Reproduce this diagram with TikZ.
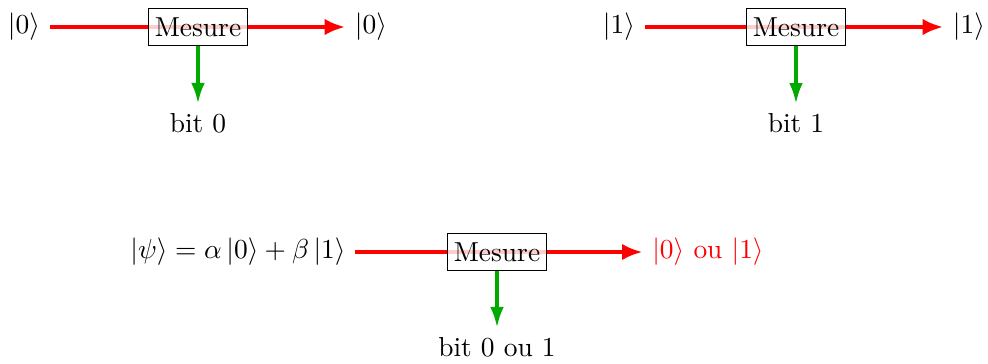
\documentclass[tikz,border=0pt]{standalone}
\usepackage{xcolor}
\usepackage{tikz}
\usetikzlibrary{arrows.meta, backgrounds}

\definecolor{vertmes}{RGB}{0,170,0}

\begin{document}
\begin{tikzpicture}[x=0.012804cm, y=-0.012804cm]
\tikzstyle{boite} = [rectangle, draw=black, fill=white, fill opacity=0.8, text opacity=1, inner xsep=2.2pt, minimum height=12.8pt]
\tikzstyle{rouge} = [draw=red, line width=1.5pt, -{Latex[length=7.5pt,width=6pt]}]
\tikzstyle{vert} = [draw=vertmes, line width=1.2pt, -{Latex[length=7.5pt,width=5pt]}]
\useasboundingbox (0,0) rectangle (988,363);

% mesure de |0>
\node (m0) [boite] at (198,27) {Mesure};
\node (in0) at (24,27) {$|0\rangle$};
\node (out0) at (371,27) {$|0\rangle$};
\node (bit0) at (198,123) {bit 0};

% mesure de |1>
\node (m1) [boite] at (796,27) {Mesure};
\node (in1) at (619,27) {$|1\rangle$};
\node (out1) at (969,27) {$|1\rangle$};
\node (bit1) at (796,123) {bit 1};

% mesure d'une superposition
\node (m2) [boite] at (497,252) {Mesure};
\node (psi) at (238,252) {$|\psi\rangle = \alpha\,|0\rangle + \beta\,|1\rangle$};
\node (out2) [text=red] at (708,252) {$|0\rangle$ ou $|1\rangle$};
\node (bit2) at (497,347) {bit 0 ou 1};

\begin{pgfonlayer}{background}
\draw [rouge] (in0) -- (out0);
\draw [rouge] (in1) -- (out1);
\draw [rouge] (psi) -- (out2);
\end{pgfonlayer}

\draw [vert] (m0) -- (bit0);
\draw [vert] (m1) -- (bit1);
\draw [vert] (m2) -- (bit2);

\end{tikzpicture}
\end{document}
